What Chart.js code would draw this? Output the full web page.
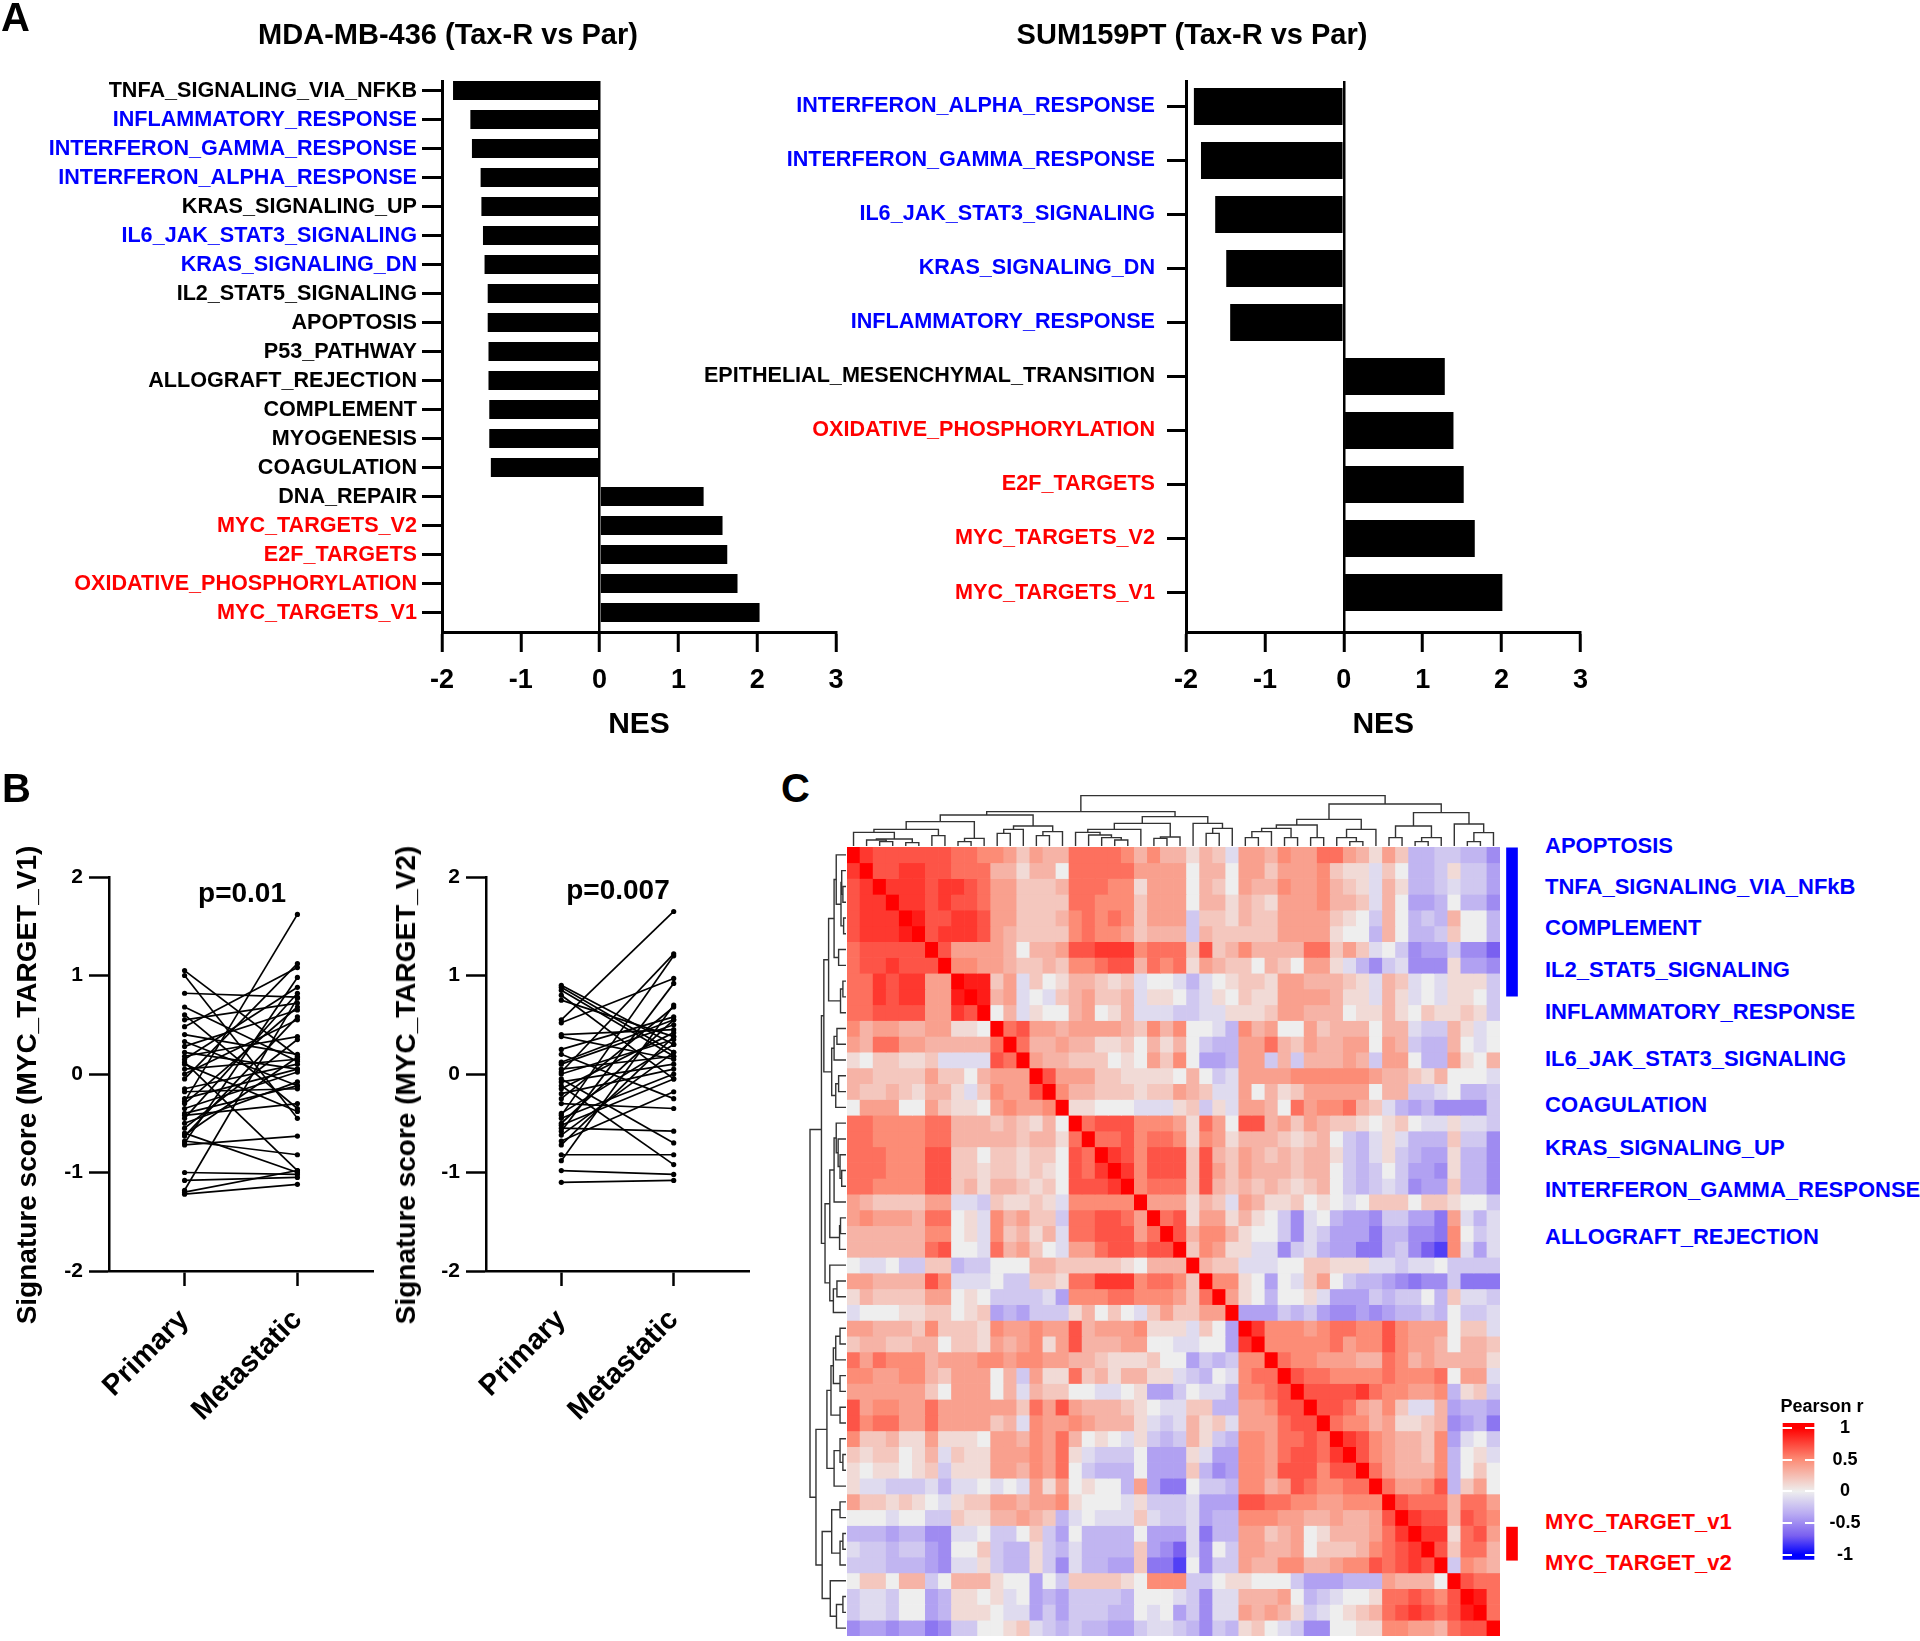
<!DOCTYPE html>
<html>
<head>
<meta charset="utf-8">
<script src="https://cdn.jsdelivr.net/npm/chart.js@4.4.1/dist/chart.umd.min.js"></script>
<style>
body { margin: 0; background: #fff; }
#page { position: relative; width: 1920px; height: 1641px; overflow: hidden; font-family: 'Liberation Sans', Arial, sans-serif; font-weight: bold; color: #000; }
canvas { position: absolute; }
.t { position: absolute; white-space: nowrap; line-height: 1; }
.c { transform: translate(-50%, -50%); }
.l { transform: translateY(-50%); }
.v { transform: translate(-50%, -50%) rotate(-90deg); }
.blue { color: #0000FF; }
.red { color: #FF0000; }
</style>
</head>
<body>
<div id="page">
  <canvas id="a1" width="860" height="757" style="left:0px;top:0px"></canvas>
  <canvas id="a2" width="920" height="757" style="left:680px;top:0px"></canvas>
  <canvas id="b1" width="390" height="640" style="left:0px;top:790px"></canvas>
  <canvas id="b2" width="390" height="640" style="left:380px;top:790px"></canvas>
  <canvas id="dTop" width="653" height="56" style="left:847px;top:790px"></canvas>
  <canvas id="dLeft" width="46" height="789" style="left:800px;top:847px"></canvas>
  <canvas id="heat" width="653" height="789" style="left:847px;top:847px"></canvas>
  <canvas id="side" width="24" height="789" style="left:1500px;top:847px"></canvas>
  <canvas id="cbar" width="120" height="190" style="left:1770px;top:1395px"></canvas>

  <div class="t" style="left:1px;top:-3px;font-size:40px">A</div>
  <div class="t" style="left:2px;top:768px;font-size:40px">B</div>
  <div class="t" style="left:781px;top:768px;font-size:40px">C</div>
  <div class="t c" style="left:448px;top:34px;font-size:29px">MDA-MB-436 (Tax-R vs Par)</div>
  <div class="t c" style="left:1192px;top:34px;font-size:29px">SUM159PT (Tax-R vs Par)</div>
  <div class="t c" style="left:242px;top:893px;font-size:28px">p=0.01</div>
  <div class="t c" style="left:618px;top:890px;font-size:28px">p=0.007</div>
  <div class="t v" style="left:27px;top:1085px;font-size:28px">Signature score (MYC_TARGET_V1)</div>
  <div class="t v" style="left:406px;top:1085px;font-size:28px">Signature score (MYC_TARGET_V2)</div>
  <div id="cLabels"></div>
  <div class="t c" style="left:1822px;top:1406px;font-size:18px">Pearson r</div>
</div>

<script>
// ---- panel A: NES bars ----
const mdaLabels = ['TNFA_SIGNALING_VIA_NFKB', 'INFLAMMATORY_RESPONSE', 'INTERFERON_GAMMA_RESPONSE',
  'INTERFERON_ALPHA_RESPONSE', 'KRAS_SIGNALING_UP', 'IL6_JAK_STAT3_SIGNALING', 'KRAS_SIGNALING_DN',
  'IL2_STAT5_SIGNALING', 'APOPTOSIS', 'P53_PATHWAY', 'ALLOGRAFT_REJECTION', 'COMPLEMENT', 'MYOGENESIS',
  'COAGULATION', 'DNA_REPAIR', 'MYC_TARGETS_V2', 'E2F_TARGETS', 'OXIDATIVE_PHOSPHORYLATION', 'MYC_TARGETS_V1'];
const mdaNes = [-1.86, -1.64, -1.62, -1.51, -1.50, -1.48, -1.46, -1.42, -1.42, -1.41, -1.41, -1.40, -1.40,
  -1.38, 1.32, 1.56, 1.62, 1.75, 2.03];
const mdaColors = ['k', 'b', 'b', 'b', 'k', 'b', 'b', 'k', 'k', 'k', 'k', 'k', 'k', 'k', 'k', 'r', 'r', 'r', 'r'];

const sumLabels = ['INTERFERON_ALPHA_RESPONSE', 'INTERFERON_GAMMA_RESPONSE', 'IL6_JAK_STAT3_SIGNALING',
  'KRAS_SIGNALING_DN', 'INFLAMMATORY_RESPONSE', 'EPITHELIAL_MESENCHYMAL_TRANSITION',
  'OXIDATIVE_PHOSPHORYLATION', 'E2F_TARGETS', 'MYC_TARGETS_V2', 'MYC_TARGETS_V1'];
const sumNes = [-1.90, -1.81, -1.63, -1.49, -1.44, 1.28, 1.39, 1.52, 1.66, 2.01];
const sumColors = ['b', 'b', 'b', 'b', 'b', 'k', 'r', 'r', 'r', 'r'];

const nesTicks = [-2, -1, 0, 1, 2, 3];

// ---- panel B: paired signature scores ----
const v1Primary = [1.05, 1.00, 0.82, 0.68, 0.60, 0.55, 0.48, 0.40, 0.33, 0.28, 0.22, 0.18, 0.15, 0.10, 0.05,
  0.00, -0.05, -0.15, -0.18, -0.28, -0.30, -0.35, -0.42, -0.45, -0.50, -0.60, -0.63, -0.68, -0.70, -0.72,
  -0.62, -1.00, -1.08, -1.18, -1.20, -1.22, -0.40, 0.12, -0.25, -0.55];
const v1Metastatic = [0.18, -0.45, 0.78, 0.13, -0.35, 0.72, 1.08, 0.20, -0.12, 0.65, 0.05, 0.38, 0.88, -0.38,
  0.15, 0.55, 1.12, 0.10, -0.15, 1.62, 0.68, 0.02, -0.30, 0.82, -0.08, -1.00, 0.58, -0.82, 0.98, -0.63,
  0.17, -1.02, -1.05, 0.77, -0.98, -1.12, -0.12, -0.98, 0.05, 0.35];
const v2Primary = [0.90, 0.88, 0.85, 0.80, 0.75, 0.55, 0.52, 0.40, 0.38, 0.25, 0.20, 0.10, 0.02, 0.00, -0.05,
  -0.08, -0.12, -0.15, -0.20, -0.25, -0.42, -0.45, -0.50, -0.55, -0.58, -0.62, -0.68, -0.72, -0.82, -0.88,
  -0.98, -1.10, -0.30, 0.05, -0.52, -0.40, 0.12];
const v2Metastatic = [0.30, 0.22, 0.18, -0.05, 0.38, 1.65, 0.97, 0.45, 0.15, 0.58, -0.25, 0.50, 1.22, 0.35,
  -0.70, 0.10, -0.92, 0.42, 0.05, 0.68, 1.20, 0.00, 0.55, -0.58, 0.92, 0.22, -0.18, 0.38, -0.82, 0.70,
  -1.02, -1.08, -0.35, 0.18, -0.05, 0.30, 0.55];
const pairGroups = ['Primary', 'Metastatic'];
const scoreTicks = [-2, -1, 0, 1, 2];

// ---- panel C: Pearson r heatmap, clustered order, one letter per cell ----
// 'A' = -1.0 ... 'K' = 0 ... 'U' = +1.0 in steps of 0.1
const heatRows = [
  'USRRRRRRQQPPOMONNQQQQPNPNNLNMJOONPOOQQONLOMHHIIHHF',
  'SURRSSRRQQQNNLNNKQQQQQOOOOKNNKOOMOOOPMLLJMKHHILIIG',
  'RSUSSSRSSRQOOMMMNQQQPPLOOOKNMKONNPOOPNMLJNLHHIJIIG',
  'RSSUSSRSRRQOOMMMMQQPPPMOOOKNNLNMLOOOPNNMJNKGGHKHHF',
  'RSSSUTRRSSROOMMMNPQPQPMOOOIMMLNMMOOOOMLKINKHIHNKKH',
  'RSSSTURSSSRONMMMMPQPPOMNNNINMMMMMOOOOLKKHNKHHIMKKH',
  'QRRRRRUROOOONKNNORRSSSPQQQMRMNPNNNNQQMOMJKIFGGIFFD',
  'QRRSRRRUPPOONMMNMPPQRRNQPQLONMMKNMKOOLJHFIJFFFLGGF',
  'QQSRSSOOUTTMOJMKLNNMLMJKKJHJKLMMLOONNNMLJNMJKJLLLI',
  'QQSRSSOOTUTNOJKJMNOMMNJLLKIJLKMLLOOOONLLJNLJKJLLKI',
  'QQRRRROOSRUKNJLKKNOKLNJJJIIJJLLLMOONNNKLLNLKMLLMLI',
  'PNOONNOOLLKUQROONOOOONMPNPKKJHPNOKKOMNNNKNNJIINLJK',
  'ONQQOONNNNNQUQNNONNLLMKNLNKIHHOOQNMONNOOKONIHHNKJK',
  'LKMMLLMJJJJRQUONNMMMKLKOMPKGGHOOININNNONIOOKHHOLKN',
  'NNMMMMOMMKNOOOUROOOMMLLLLKNKIJOOOOPPPPPPONNMLNKKKJ',
  'NMMNMLNNLJMPOORUPNNMMMLMMONMJJOKNLMOOOOOKNNIIJKHHI',
  'KOOOKKOMLLKOPOOPULLKKKJJJLMILJOONKQOPPQNMJHGHFFFFI',
  'QQPPPPQQNNNMNMLNKUQRRRPPPOLQOKRRNOMONMMLKLMKJJLJJI',
  'QQPPPPQQNNNNNMNNLQUQQRPQQPLPOLNNNMLMNKIHJLJHHHMIIF',
  'QQQPPPRRMMKMMLMMKRQUSRPRRRMRNMONMNMNNLIHJLIHGGLHHF',
  'QQQPPPRRMMLMMLMLKRQSUSPRRRMROMONNNMNNKIHIKIGGFLHHF',
  'QQPPPPRRMNLNNMLMKRRRSUPQQQMRNMNMNMLMNKIHIJIFGGMHHF',
  'ONMMMMOOJJIMLLMLJPPPPPUOOOLNMJONLLMKLKJKMMMKMMLKKI',
  'OPOOONQQKLJPNOMMIQQRRQOUQRLOOLNLKIFJKHGGFIIGGEOJHJ',
  'NNNNNNPPKLJPMNLNJQQRRROQURNPPNLKKIFJIGGGEHHFFEPKIJ',
  'NNNNNNQRKKJQNOMKJOOQRRQRRUMPOLLJJFIJHGGEEHIFDCPJGJ',
  'KJJKIIMMHIIKKKNNMMMMMLKNNNUNMMJJJKKMMLLLJJIJJKIIII',
  'OONNNNRPJJJKIIMMLQQSSSPQQPMUPPLKGKJMOKIHHGFEFFIEEE',
  'LNMMMMOOKLKIIIIJGPPPQQPPPOMQUOLKHKKLJGGGIHIIKHMJJI',
  'JKKKLLMMKLMGHGIIILNKMKJMOMMOOUGGGIHIGFFGFGHHIHKIIJ',
  'OONNNMPMMMLPOOPOORNOOOPLLLJMKGUSPPPOPQQPPRPOOOKMMJ',
  'MNNMMNNKMMLONOPLORNNNOOKKJJKKGSUPPPPPQOPPRPOONKNNM',
  'QOQPPPNOOOPPOPPOONNMLLLMKKGIHIPPUQPPOOONNQPNONNNNL',
  'PPOOPPNMOOOKNIOLLQMNLNNLLJIHKJPQQURQQPPPPQPPPQKOOJ',
  'OOOOOOMKOOOKNJNMMKKJJKLGGIKJJHPPQRURRRRSQPPOOPHLMI',
  'ROPPOOQOOOOOOMQORONNNMLKJJMMHHOOPRRURRQONPMJJNGHHG',
  'RPQQOOQOOOOMNJPOOPONNNLJIJNLMJOOOQRRUQPPNOLLMNFGHE',
  'PMMNLLOLLLKOONPOQNKLKJLIHINLIHPPOQQRQUSRPONNMPGJKI',
  'MLMMKLNJMLLOOOPOQLJIIIKGGGLJGGPPOQRRQSURPONNMPHKLJ',
  'LKLLKLMILLLOONPOQKIHHHKGGGMHFGPPORRRPRRUQONNNPHKMK',
  'LJJIIIJHJJKJKJOLOKLKKHOGEEKIIHPPNORQPPQQUQOOPRHMOK',
  'OMMLMLKJLMMOONOOPLKKKJLIIIJGGGRRQQPPOOPPPURQQQNQQO',
  'KKKJKKIIMLLNNONMHJKJJJMJIIJGHHPPPOONNONNORUSRRNRQP',
  'HHHGHHFFJJKIIKMIGKHHHHKGGGJEHHOOMNOKLNNNOQSUSSLQRO',
  'JIIHIIGFKKMIHHLIHJHHHHMGFDJFKIOONNOKMMMNPQRSURMQQN',
  'IIIHHHGFJJLIHHLIFJHHGGMEECKFIIONNPPNNOPPRQRSRUIPON',
  'KMMKNNIKNNNLKKGKIMMMMLKPPPIIKLLKKKIGGGHHHONNNKURQQ',
  'IJJIKKGHLLKLJKGHGIIIIHKKKJIFJJNNNOKHIJKKLQQRQPRUTQ',
  'IJJIKKGHLLLKJJGIGIIIHHKJKGIFJJONONLIJKLMNQRSRQRTUQ',
  'FGGFGGEFIIKKLMJIHIHHGGIJJIHFIHLMKJIFFKKLLPPOONQRRU'
];
const heatIndex = heatRows.map((row, i) => String(i));
const rampStops = [[-1, [0, 0, 255]], [-0.7, [122, 96, 240]], [-0.35, [186, 172, 242]], [0, [238, 238, 238]],
  [0.5, [252, 140, 118]], [1, [255, 0, 0]]];
const legendTicks = [1, 0.5, 0, -0.5, -1];

// dendrogram: [child a, child b, merge height]; leaves 0-49, merges numbered from 50
const linkage = [
  [2, 3, 13], [1, 50, 18], [4, 5, 10], [51, 52, 21], [0, 53, 41], [6, 7, 31], [54, 55, 50],
  [8, 9, 13], [57, 10, 23], [56, 58, 73], [11, 12, 38], [60, 13, 50], [14, 15, 31], [62, 16, 43],
  [61, 63, 60], [59, 64, 93], [20, 21, 18], [19, 66, 25], [18, 67, 33], [17, 68, 41], [69, 22, 50],
  [23, 24, 23], [71, 25, 27], [70, 72, 68], [27, 28, 38], [74, 29, 53], [26, 75, 68], [73, 76, 88],
  [65, 77, 103], [30, 31, 25], [79, 32, 43], [33, 34, 25], [80, 81, 53], [35, 36, 25], [82, 83, 63],
  [38, 39, 13], [37, 85, 25], [86, 40, 50], [84, 87, 80], [41, 42, 25], [43, 44, 13], [90, 45, 25],
  [89, 91, 60], [47, 48, 13], [93, 49, 40], [46, 94, 66], [92, 95, 100], [88, 96, 126], [78, 97, 151]
];

// side annotation spans (rows) and right-hand labels
const blueSpan = [0.05, 9.45];
const redSpan = [43.1, 45.2];
const cLabels = ['APOPTOSIS', 'TNFA_SIGNALING_VIA_NFkB', 'COMPLEMENT', 'IL2_STAT5_SIGNALING',
  'INFLAMMATORY_RESPONSE', 'IL6_JAK_STAT3_SIGNALING', 'COAGULATION', 'KRAS_SIGNALING_UP',
  'INTERFERON_GAMMA_RESPONSE', 'ALLOGRAFT_REJECTION', 'MYC_TARGET_v1', 'MYC_TARGET_v2'];
const cLabelY = [846, 887, 928, 970, 1012, 1059, 1105, 1148, 1190, 1237, 1522, 1563];
const cLabelColor = ['b', 'b', 'b', 'b', 'b', 'b', 'b', 'b', 'b', 'b', 'r', 'r'];

// ------------------------------------------------------------------
const SANS = "'Liberation Sans', Arial, sans-serif";
const NARROW = "'Liberation Sans Narrow', 'Liberation Sans', Arial, sans-serif";
const labelColor = { k: '#000000', b: '#0000FF', r: '#FF0000' };

Chart.defaults.font.family = SANS;
Chart.defaults.font.weight = 'bold';
Chart.defaults.color = '#000';
Chart.defaults.animation = false;
Chart.defaults.responsive = false;
Chart.defaults.events = [];
Chart.defaults.plugins.legend.display = false;
Chart.defaults.plugins.tooltip.enabled = false;

// horizontal bars on a linear index axis, so the axis can run a little past the first/last bar
function nesChart(id, labels, values, colors, g) {
  new Chart(document.getElementById(id), {
    type: 'bar',
    data: {
      datasets: [{ data: values.map((v, i) => ({ x: v, y: i })), backgroundColor: '#000',
                   barPercentage: g.bar, categoryPercentage: 1 }]
    },
    options: {
      indexAxis: 'y',
      layout: { padding: { left: 0, top: g.top, right: g.right, bottom: 0 } },
      scales: {
        x: {
          type: 'linear', min: -2, max: 3,
          afterBuildTicks: s => { s.ticks = nesTicks.map(v => ({ value: v })); },
          ticks: { padding: 12, font: { size: 27 }, color: '#000' },
          grid: {
            color: c => (c.tick && c.tick.value === 0) ? '#000' : 'rgba(0,0,0,0)',
            lineWidth: 2.5, tickLength: 20, tickColor: '#000', tickWidth: 3
          },
          border: { color: '#000', width: 3 },
          title: { display: true, text: 'NES', font: { family: NARROW, size: 30 }, padding: { top: 0, bottom: 14 } },
          afterFit: s => { s.height = g.xh; }
        },
        y: {
          type: 'linear', min: g.ymin, max: g.ymax, reverse: true, offset: false,
          afterBuildTicks: s => { s.ticks = labels.map((l, i) => ({ value: i })); },
          ticks: { autoSkip: false, padding: g.pad, font: { size: 21.6 }, callback: v => labels[v],
                   color: c => labelColor[colors[c.index]] },
          grid: { offset: false, drawOnChartArea: false, tickLength: g.tl, tickColor: '#000', tickWidth: 3 },
          border: { color: '#000', width: 3 },
          afterFit: s => { s.width = g.yw; }
        }
      }
    }
  });
}

nesChart('a1', mdaLabels, mdaNes, mdaColors,
  { top: 81, right: 24, xh: 125, yw: 442, tl: 20, pad: 5, bar: 0.655, ymin: -0.33, ymax: 18.67 });
nesChart('a2', sumLabels, sumNes, sumColors,
  { top: 81, right: 19, xh: 125, yw: 506, tl: 19, pad: 12, bar: 0.685, ymin: -0.47, ymax: 9.73 });

function pairChart(id, prim, meta, g) {
  const datasets = prim.map((p, i) => ({
    data: [{ x: 1, y: p }, { x: 2, y: meta[i] }],
    showLine: true, borderColor: '#000', backgroundColor: '#000',
    borderWidth: 1.7, pointRadius: 2.6, pointBorderWidth: 0
  }));
  new Chart(document.getElementById(id), {
    type: 'scatter',
    data: { datasets: datasets },
    options: {
      layout: { padding: { left: 0, top: g.top, right: g.right, bottom: 0 } },
      scales: {
        x: {
          type: 'linear', min: 0.33, max: 2.67,
          afterBuildTicks: s => { s.ticks = pairGroups.map((n, i) => ({ value: i + 1 })); },
          ticks: { callback: v => pairGroups[v - 1], minRotation: 45, maxRotation: 45, autoSkip: false,
                   font: { size: 29 }, padding: 17 },
          grid: { drawOnChartArea: false, tickLength: 15, tickColor: '#000', tickWidth: 2.5 },
          border: { color: '#000', width: 2.5 },
          afterFit: s => { s.height = g.xh; }
        },
        y: {
          min: -2, max: 2,
          afterBuildTicks: s => { s.ticks = scoreTicks.map(v => ({ value: v })); },
          ticks: { font: { size: 21 }, padding: 6 },
          grid: { drawOnChartArea: false, tickLength: 20, tickColor: '#000', tickWidth: 2.5 },
          border: { color: '#000', width: 2.5 },
          afterFit: s => { s.width = g.yw; }
        }
      }
    }
  });
}

pairChart('b1', v1Primary, v1Metastatic, { top: 87, right: 17, xh: 159, yw: 109 });
pairChart('b2', v2Primary, v2Metastatic, { top: 87, right: 21, xh: 159, yw: 106 });

// ---- heatmap ----
function cellValue(ch) { return (ch.charCodeAt(0) - 75) / 10; }
function heatColor(v) {
  for (let i = 1; i < rampStops.length; i++) {
    const [v0, c0] = rampStops[i - 1];
    const [v1, c1] = rampStops[i];
    if (v <= v1 || i === rampStops.length - 1) {
      const t = Math.max(0, Math.min(1, (v - v0) / (v1 - v0)));
      const c = c0.map((a, k) => Math.round(a + (c1[k] - a) * t));
      return 'rgb(' + c.join(',') + ')';
    }
  }
}

new Chart(document.getElementById('heat'), {
  type: 'bar',
  data: {
    labels: heatIndex,
    datasets: heatRows.map((row, r) => ({
      data: heatIndex.map(() => [r, r + 1]),
      backgroundColor: row.split('').map(ch => heatColor(cellValue(ch))),
      grouped: false, barPercentage: 1, categoryPercentage: 1, borderWidth: 0
    }))
  },
  options: {
    layout: { padding: 0 },
    scales: { x: { display: false }, y: { display: false, min: 0, max: heatRows.length, reverse: true } }
  }
});

// ---- dendrograms ----
const nodeX = [], nodeH = [];
heatRows.forEach((row, i) => { nodeX.push(i + 0.5); nodeH.push(0); });
linkage.forEach(m => { nodeX.push((nodeX[m[0]] + nodeX[m[1]]) / 2); nodeH.push(m[2]); });

function dendroSets(swap) {
  return linkage.map(m => {
    const a = m[0], b = m[1], h = m[2];
    const pts = [[nodeX[a], nodeH[a]], [nodeX[a], h], [nodeX[b], h], [nodeX[b], nodeH[b]]];
    return {
      data: pts.map(p => swap ? { x: p[1], y: p[0] } : { x: p[0], y: p[1] }),
      showLine: true, borderColor: '#333', borderWidth: 1.4, pointRadius: 0, clip: 4
    };
  });
}

new Chart(document.getElementById('dTop'), {
  type: 'scatter',
  data: { datasets: dendroSets(false) },
  options: { layout: { padding: 0 },
    scales: { x: { display: false, min: 0, max: 50 }, y: { display: false, min: 0, max: 168 } } }
});
new Chart(document.getElementById('dLeft'), {
  type: 'scatter',
  data: { datasets: dendroSets(true) },
  options: { layout: { padding: 0 },
    scales: { x: { display: false, min: 0, max: 193, reverse: true }, y: { display: false, min: 0, max: 50, reverse: true } } }
});

// ---- side annotation bars ----
new Chart(document.getElementById('side'), {
  type: 'bar',
  data: {
    labels: ['group'],
    datasets: [
      { data: [blueSpan], backgroundColor: '#0000FF', barThickness: 11, grouped: false },
      { data: [redSpan], backgroundColor: '#FF0000', barThickness: 11, grouped: false }
    ]
  },
  options: { layout: { padding: 0 },
    scales: { x: { display: false }, y: { display: false, min: 0, max: 50, reverse: true } } }
});

// ---- colour key ----
new Chart(document.getElementById('cbar'), {
  type: 'bar',
  data: {
    labels: ['r'],
    datasets: [{
      data: [[-1.08, 1.08]], barThickness: 31,
      backgroundColor: ctx => {
        const chart = ctx.chart;
        if (!chart.chartArea) return '#eee';
        const y = chart.scales.y;
        const grad = chart.ctx.createLinearGradient(0, y.getPixelForValue(-1), 0, y.getPixelForValue(1));
        rampStops.forEach(s => grad.addColorStop((s[0] + 1) / 2, 'rgb(' + s[1].join(',') + ')'));
        return grad;
      }
    }]
  },
  options: {
    layout: { padding: { left: 12, top: 28, bottom: 12, right: 0 } },
    scales: {
      x: { display: false },
      y: {
        position: 'right', min: -1.08, max: 1.08,
        afterBuildTicks: s => { s.ticks = legendTicks.map(v => ({ value: v })); },
        ticks: { callback: v => String(v), font: { size: 18 }, padding: 14.5, crossAlign: 'center' },
        grid: { drawTicks: false, color: '#fff', lineWidth: 2, z: 1 },
        border: { display: false, dash: [10, 13] },
        afterFit: s => { s.width = 75; }
      }
    }
  }
});

// ---- right-hand gene-set labels of panel C ----
const holder = document.getElementById('cLabels');
cLabels.forEach((txt, i) => {
  const d = document.createElement('div');
  d.className = 't l ' + (cLabelColor[i] === 'r' ? 'red' : 'blue');
  d.style.left = '1545px';
  d.style.top = cLabelY[i] + 'px';
  d.style.fontSize = '22px';
  d.textContent = txt;
  holder.appendChild(d);
});
</script>
</body>
</html>
